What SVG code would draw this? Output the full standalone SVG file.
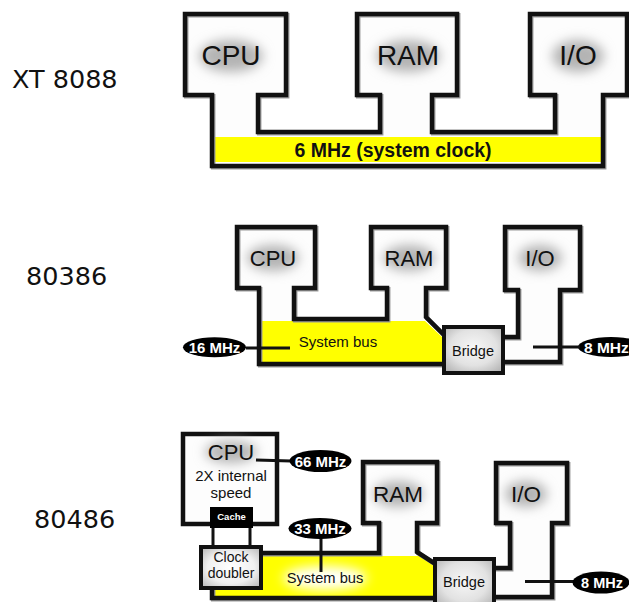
<svg xmlns="http://www.w3.org/2000/svg" width="629" height="602" viewBox="0 0 629 602">
  <defs>
    <filter id="blur" x="-50%" y="-50%" width="200%" height="200%">
      <feGaussianBlur stdDeviation="6"/>
    </filter>
    <radialGradient id="boxg" cx="50%" cy="45%" r="65%">
      <stop offset="0" stop-color="#f7f7f7"/>
      <stop offset="0.6" stop-color="#e2e2e2"/>
      <stop offset="1" stop-color="#b8b8b8"/>
    </radialGradient>
    <radialGradient id="dblg" cx="50%" cy="50%" r="65%">
      <stop offset="0" stop-color="#ffffff"/>
      <stop offset="0.6" stop-color="#f0f0f0"/>
      <stop offset="1" stop-color="#bdbdbd"/>
    </radialGradient>
  </defs>
  <style>
    .outline { fill: none; stroke: #111; stroke-width: 4.5; stroke-linejoin: miter; }
    .shadow { fill: none; stroke: #9a9a9a; stroke-width: 4.5; }
    .bg { fill: #fdfdfd; stroke: none; }
    .bus { fill: #ffff00; stroke: none; }
    .glow { fill: #b4b4b4; filter: url(#blur); }
    .wglow { fill: #ffffff; filter: url(#blur); }
    .box { fill: url(#boxg); stroke: #111; stroke-width: 4; }
    .dbl { fill: url(#dblg); stroke: #111; stroke-width: 4; }
    .lbl { font-family: "Liberation Sans", Arial, sans-serif; fill: #111; text-anchor: middle; }
    .side { font-family: "DejaVu Sans", Verdana, sans-serif; font-size: 25.5px; fill: #111; }
    .clk { fill: #000; }
    .clkt { font-family: "Liberation Sans", Arial, sans-serif; font-weight: bold; fill: #fff; text-anchor: middle; }
    .wire { stroke: #111; stroke-width: 3; fill: none; }
  </style>
  <rect width="629" height="602" fill="#ffffff"/>

  <!-- Row labels -->
  <g id="label-xt"><text class="side" x="12" y="88">XT 8088</text></g>
  <g id="label-80386"><text class="side" x="26" y="285">80386</text></g>
  <g id="label-80486"><text class="side" x="34" y="528">80486</text></g>

  <!-- ===== XT 8088 ===== -->
  <g id="xt-system">
    <path class="bg" d="M185,14 H286 V95 H258 V132 H380 V95 H357 V14 H457 V95 H432 V132 H555 V95 H530 V14 H627 V95 H603 V166 H212 V95 H185 Z"/>
    <ellipse class="glow" cx="231" cy="56" rx="32" ry="16"/>
    <ellipse class="glow" cx="408" cy="56" rx="32" ry="16"/>
    <ellipse class="glow" cx="578" cy="56" rx="26" ry="16"/>
    <rect class="bus" x="214" y="137" width="387" height="25"/>
    <path class="shadow" transform="translate(1.2,1.2)" d="M185,14 H286 V95 H258 V132 H380 V95 H357 V14 H457 V95 H432 V132 H555 V95 H530 V14 H627 V95 H603 V166 H212 V95 H185 Z"/>
    <path class="outline" d="M185,14 H286 V95 H258 V132 H380 V95 H357 V14 H457 V95 H432 V132 H555 V95 H530 V14 H627 V95 H603 V166 H212 V95 H185 Z"/>
  </g>
  <g id="xt-cpu"><text class="lbl" x="231" y="65" font-size="28">CPU</text></g>
  <g id="xt-ram"><text class="lbl" x="408" y="65" font-size="28">RAM</text></g>
  <g id="xt-io"><text class="lbl" x="578" y="65" font-size="28">I/O</text></g>
  <g id="xt-bus"><text class="lbl" x="393" y="157" font-size="19.5" font-weight="bold">6 MHz (system clock)</text></g>

  <!-- ===== 80386 ===== -->
  <g id="m386-system">
    <path class="bg" d="M444,335 L426,317 V288 H446 V227 H371 V288 H387 V319 H294 V288 H315 V227 H237 V288 H259 V364 H444 Z"/>
    <path class="bg" d="M503,337 H518 V290 H505 V227 H580 V290 H560 V362 H503 Z"/>
    <ellipse class="glow" cx="273" cy="258" rx="26" ry="13"/>
    <ellipse class="glow" cx="409" cy="258" rx="26" ry="13"/>
    <ellipse class="glow" cx="540" cy="258" rx="22" ry="13"/>
    <polygon class="bus" points="261,321 425,321 442,337 442,362 261,362"/>
    <path class="shadow" transform="translate(1.2,1.2)" d="M444,335 L426,317 V288 H446 V227 H371 V288 H387 V319 H294 V288 H315 V227 H237 V288 H259 V364 H444"/>
    <path class="outline" d="M444,335 L426,317 V288 H446 V227 H371 V288 H387 V319 H294 V288 H315 V227 H237 V288 H259 V364 H444"/>
    <path class="shadow" transform="translate(1.2,1.2)" d="M503,337 H518 V290 H505 V227 H580 V290 H560 V362 H503"/>
    <path class="outline" d="M503,337 H518 V290 H505 V227 H580 V290 H560 V362 H503"/>
  </g>
  <g id="m386-cpu"><text class="lbl" x="273" y="266" font-size="22">CPU</text></g>
  <g id="m386-ram"><text class="lbl" x="409" y="266" font-size="22">RAM</text></g>
  <g id="m386-io"><text class="lbl" x="540" y="266" font-size="22">I/O</text></g>
  <g id="m386-bus"><text class="lbl" x="338" y="347" font-size="15">System bus</text></g>
  <g id="m386-bridge">
    <rect class="box" x="444" y="327" width="59" height="46"/>
    <text class="lbl" x="473" y="356" font-size="14.5">Bridge</text>
  </g>
  <g id="m386-16mhz">
    <ellipse class="clk" cx="214.5" cy="347.3" rx="31.5" ry="10"/>
    <text class="clkt" x="214.5" y="352.5" font-size="15">16 MHz</text>
  </g>
  <g id="m386-8mhz">
    <ellipse class="clk" cx="611" cy="347" rx="33" ry="10"/>
    <text class="clkt" x="584" y="352.5" font-size="15.5" text-anchor="start" style="text-anchor:start">8 MHz</text>
  </g>

  <!-- ===== 80486 ===== -->
  <g id="m486-system">
    <path class="bg" d="M434,563 L417,552 V523 H437 V462 H363 V523 H379 V553 H261 V588 H212 V598 H434 Z"/>
    <path class="bg" d="M494,568 H510 V523 H496 V463 H567 V523 H552 V597 H494 Z"/>
    <ellipse class="glow" cx="398" cy="494" rx="25" ry="13"/>
    <ellipse class="glow" cx="526" cy="494" rx="21" ry="13"/>
    <polygon class="bus" points="261,556 425,556 435,566 435,597 214,597 214,590 261,590"/>
    <ellipse class="wglow" cx="325" cy="578" rx="42" ry="12"/>
    <path class="shadow" transform="translate(1.2,1.2)" d="M434,563 L417,552 V523 H437 V462 H363 V523 H379 V553 H261 M212,588 V598 H434"/>
    <path class="outline" d="M434,563 L417,552 V523 H437 V462 H363 V523 H379 V553 H261 M212,588 V598 H434"/>
    <path class="shadow" transform="translate(1.2,1.2)" d="M494,568 H510 V523 H496 V463 H567 V523 H552 V597 H494"/>
    <path class="outline" d="M494,568 H510 V523 H496 V463 H567 V523 H552 V597 H494"/>
  </g>
  <g id="m486-cpu">
    <rect x="183" y="434" width="94" height="90" fill="#fdfdfd" stroke="#111" stroke-width="4.5"/>
    <ellipse class="glow" cx="231" cy="452" rx="26" ry="11"/>
    <text class="lbl" x="231" y="460" font-size="22">CPU</text>
    <text class="lbl" x="231" y="481" font-size="15">2X internal</text>
    <text class="lbl" x="231" y="498" font-size="15">speed</text>
  </g>
  <g id="m486-cache">
    <rect x="210" y="507" width="43" height="21" fill="#000"/>
    <text class="clkt" x="231.5" y="520" font-size="9.5">Cache</text>
  </g>
  <g id="m486-ram"><text class="lbl" x="398" y="502" font-size="22.5">RAM</text></g>
  <g id="m486-io"><text class="lbl" x="526" y="502" font-size="22.5">I/O</text></g>
  <g id="m486-bus"><text class="lbl" x="325" y="583" font-size="14.7">System bus</text></g>
  <g id="m486-bridge">
    <rect class="box" x="435" y="559" width="59" height="50"/>
    <text class="lbl" x="464" y="587" font-size="14.5">Bridge</text>
  </g>

  <!-- connectors -->
  <g id="connectors">
    <line class="wire" x1="246" y1="348" x2="290" y2="348"/>
    <line class="wire" x1="533" y1="347" x2="580" y2="347"/>
    <line class="wire" x1="256" y1="460" x2="291" y2="461"/>
    <line class="wire" x1="321" y1="538" x2="321" y2="572"/>
    <line class="wire" x1="525" y1="581.5" x2="574" y2="581.5"/>
    <line class="wire" x1="213" y1="528" x2="213" y2="547"/>
    <line class="wire" x1="250" y1="528" x2="250" y2="547"/>
  </g>

  <g id="m486-doubler">
    <rect class="dbl" x="201" y="547" width="60" height="41"/>
    <text class="lbl" x="231" y="561.5" font-size="14">Clock</text>
    <text class="lbl" x="231" y="577.5" font-size="14">doubler</text>
  </g>
  <g id="m486-66mhz">
    <ellipse class="clk" cx="320.5" cy="461" rx="31" ry="11"/>
    <text class="clkt" x="320.5" y="466.5" font-size="15">66 MHz</text>
  </g>
  <g id="m486-33mhz">
    <ellipse class="clk" cx="320" cy="528.5" rx="31.5" ry="10.5"/>
    <text class="clkt" x="320" y="534" font-size="15">33 MHz</text>
  </g>
  <g id="m486-8mhz">
    <ellipse class="clk" cx="601" cy="582.5" rx="28.5" ry="11"/>
    <text class="clkt" x="602" y="587.7" font-size="14.5">8 MHz</text>
  </g>
</svg>
